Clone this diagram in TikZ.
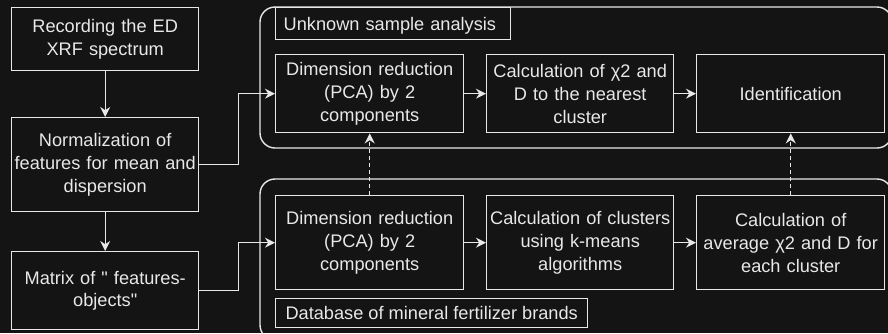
\documentclass[tikz,border=0pt]{standalone}
\usepackage{fontspec}
\setmainfont{Liberation Sans}[Ligatures=TeXOff]
\usepackage{tikz}
\usetikzlibrary{positioning,arrows.meta,calc}
\definecolor{BgDark}{RGB}{20,20,20}
\definecolor{LineWhite}{RGB}{232,232,232}

\begin{document}
\begin{tikzpicture}[
    x=1pt, y=-1pt,
    every node/.style={font=\fontsize{18.2}{22.8}\selectfont, text=LineWhite},
    stepbox/.style={draw=LineWhite, line width=1.4pt, fill=BgDark, anchor=north west,
        align=center, inner sep=0pt, text width=#1},
    titlebox/.style={draw=LineWhite, line width=1.4pt, fill=BgDark, anchor=north west,
        inner xsep=8pt, inner ysep=0pt, text depth=0pt, align=left},
    groupbox/.style={draw=LineWhite, line width=1.4pt, rounded corners=15pt},
    flow/.style={draw=LineWhite, line width=1.4pt, -{Stealth[length=10pt,width=10pt]}},
    feed/.style={flow, dash pattern=on 4pt off 3pt},
]
\fill[BgDark] (0,0) rectangle (888,333);
\useasboundingbox (0,0) rectangle (888,333);
\clip (0,0) rectangle (888,333);

% groups
\draw[groupbox] (260,7) rectangle (892,148);
\draw[groupbox] (260,179) rectangle (892,340);

% left column
\node[stepbox=187pt, minimum height=63pt] (record) at (11,7) {Recording the ED\\XRF spectrum};
\node[stepbox=187pt, minimum height=94pt] (norm) at (11,117) {Normalization of\\features for mean and\\dispersion};
\node[stepbox=187pt, minimum height=78pt] (matrix) at (11,251) {Matrix of " features-\\objects"};

% unknown sample analysis
\node[titlebox, minimum height=32pt, text width=219pt] (unktitle) at (275,7) {Unknown sample analysis};
\node[stepbox=188pt, minimum height=78pt] (pcaunk) at (275,54) {Dimension reduction\\(PCA) by 2\\components};
\node[stepbox=187pt, minimum height=78pt] (chinear) at (486,54) {Calculation of χ2 and\\D to the nearest\\cluster};
\node[stepbox=188pt, minimum height=78pt] (ident) at (696,54) {Identification};

% database
\node[stepbox=188pt, minimum height=94pt] (pcadb) at (275,195) {Dimension reduction\\(PCA) by 2\\components};
\node[stepbox=187pt, minimum height=94pt] (kmeans) at (486,195) {Calculation of clusters\\using k-means\\algorithms};
\node[stepbox=188pt, minimum height=94pt] (chiavg) at (696,195) {Calculation of\\average χ2 and D for\\each cluster};
\node[titlebox, minimum height=29pt, minimum width=312pt, inner xsep=5pt] (dbtitle) at (275,298) {Database of mineral fertilizer brands};

% connectors
\draw[flow] (record) -- (norm);
\draw[flow] (norm) -- (matrix);
\draw[flow] (norm.east) -- ++(39,0) |- (pcaunk.west);
\draw[flow] (matrix.east) -- ++(39,0) |- (pcadb.west);
\draw[flow] (pcaunk) -- (chinear);
\draw[flow] (chinear) -- (ident);
\draw[flow] (pcadb) -- (kmeans);
\draw[flow] (kmeans) -- (chiavg);
\draw[feed] (pcadb) -- (pcaunk);
\draw[feed] (chiavg) -- (ident);
\end{tikzpicture}
\end{document}
